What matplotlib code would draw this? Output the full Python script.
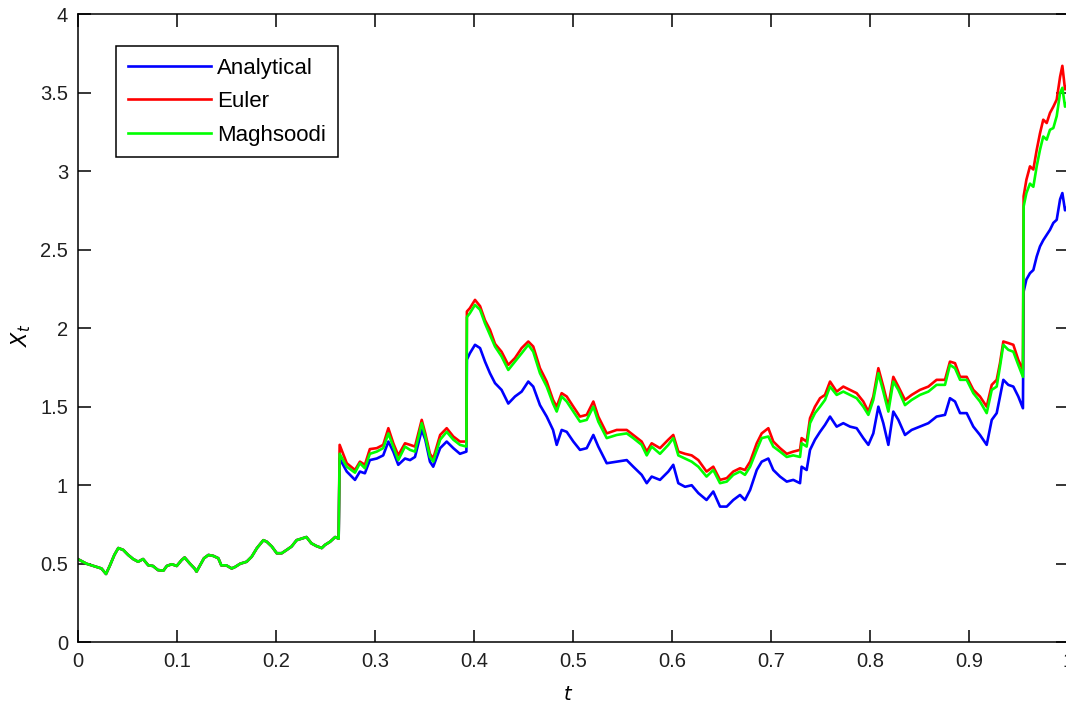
import numpy as np
import matplotlib
matplotlib.use("Agg")
import matplotlib.pyplot as plt

plt.rcParams['font.family'] = ['Liberation Sans', 'DejaVu Sans']

# --- data ---
# before the first jump the three paths coincide
t_early = [0.0, 0.009, 0.019, 0.024, 0.0286, 0.0326, 0.037, 0.041, 0.046, 0.051,
           0.056, 0.061, 0.066, 0.0713, 0.076, 0.081, 0.0865, 0.09, 0.095, 0.1,
           0.105, 0.108, 0.113, 0.118, 0.12, 0.1235, 0.1275, 0.132, 0.137, 0.142,
           0.145, 0.15, 0.1555, 0.159, 0.164, 0.1706, 0.1757, 0.181, 0.1875, 0.191,
           0.196, 0.201, 0.206, 0.211, 0.216, 0.221, 0.226, 0.231, 0.236, 0.241,
           0.2464, 0.2497, 0.2548, 0.26, 0.2635]
x_early = [0.53, 0.50, 0.48, 0.47, 0.435, 0.49, 0.556, 0.60, 0.588, 0.556,
           0.53, 0.513, 0.53, 0.49, 0.486, 0.46, 0.456, 0.486, 0.497, 0.486,
           0.524, 0.54, 0.503, 0.47, 0.45, 0.49, 0.535, 0.556, 0.55, 0.535,
           0.49, 0.49, 0.47, 0.48, 0.50, 0.513, 0.545, 0.60, 0.65, 0.64,
           0.61, 0.567, 0.567, 0.588, 0.61, 0.65, 0.66, 0.67, 0.63, 0.613,
           0.60, 0.62, 0.64, 0.67, 0.66]

t_late = [0.2645, 0.2717, 0.28, 0.285, 0.29, 0.295, 0.302, 0.3085, 0.3137, 0.3187,
          0.3237, 0.3305, 0.3356, 0.3406, 0.3474, 0.351, 0.3557, 0.359, 0.366, 0.3726,
          0.3793, 0.386, 0.3925, 0.393, 0.396, 0.4012, 0.4063, 0.4113, 0.4163, 0.4214,
          0.428, 0.4348, 0.4416, 0.4483, 0.455, 0.46, 0.4668, 0.4736, 0.48, 0.4837,
          0.4887, 0.4938, 0.5005, 0.5072, 0.514, 0.5207, 0.5257, 0.5342, 0.5443, 0.5544,
          0.561, 0.5695, 0.5746, 0.5796, 0.588, 0.5964, 0.6014, 0.6065, 0.6133, 0.62,
          0.6267, 0.635, 0.6418, 0.6486, 0.6554, 0.662, 0.6688, 0.6738, 0.679, 0.6857,
          0.6907, 0.6974, 0.7024, 0.7092, 0.716, 0.7226, 0.7294, 0.731, 0.7361, 0.7395,
          0.7445, 0.7496, 0.7546, 0.7597, 0.7664, 0.7731, 0.7799, 0.7866, 0.7933, 0.7984,
          0.8034, 0.8085, 0.8135, 0.8186, 0.8236, 0.8287, 0.8354, 0.8421, 0.8505, 0.859,
          0.8673, 0.8758, 0.8808, 0.8859, 0.891, 0.8977, 0.9044, 0.9111, 0.9179, 0.923,
          0.928, 0.9313, 0.9347, 0.9397, 0.9448, 0.9498, 0.9545, 0.9552, 0.958, 0.9616,
          0.965, 0.9684, 0.9717, 0.975, 0.9785, 0.9818, 0.9852, 0.9886, 0.992, 0.9943,
          0.997, 1.0]

maghsoodi_late = [1.20, 1.118, 1.08, 1.14, 1.108, 1.20, 1.214, 1.236, 1.33, 1.246,
                  1.16, 1.246, 1.225, 1.214, 1.395, 1.31, 1.18, 1.15, 1.29, 1.34,
                  1.29, 1.257, 1.246, 2.07, 2.095, 2.148, 2.117, 2.03, 1.957, 1.883,
                  1.82, 1.734, 1.787, 1.84, 1.894, 1.85, 1.713, 1.628, 1.52, 1.469,
                  1.565, 1.533, 1.469, 1.405, 1.416, 1.50, 1.405, 1.30, 1.32, 1.33,
                  1.30, 1.257, 1.19, 1.246, 1.20, 1.257, 1.30, 1.19, 1.17, 1.15,
                  1.118, 1.055, 1.097, 1.013, 1.023, 1.066, 1.087, 1.066, 1.118, 1.225,
                  1.30, 1.31, 1.246, 1.214, 1.18, 1.19, 1.18, 1.267, 1.246, 1.395,
                  1.459, 1.50, 1.543, 1.628, 1.575, 1.596, 1.575, 1.554, 1.50, 1.448,
                  1.543, 1.713, 1.596, 1.469, 1.66, 1.607, 1.51, 1.543, 1.575, 1.596,
                  1.639, 1.639, 1.766, 1.745, 1.671, 1.671, 1.586, 1.533, 1.459, 1.607,
                  1.628, 1.755, 1.894, 1.862, 1.85, 1.766, 1.69, 2.775, 2.86, 2.92,
                  2.90, 3.03, 3.135, 3.22, 3.20, 3.263, 3.274, 3.35, 3.497, 3.53,
                  3.41, 3.45]

analytical_late = [1.17, 1.087, 1.034, 1.087, 1.076, 1.16, 1.17, 1.19, 1.278, 1.214,
                   1.13, 1.17, 1.16, 1.18, 1.352, 1.29, 1.15, 1.118, 1.236, 1.278,
                   1.236, 1.20, 1.214, 1.80, 1.84, 1.894, 1.873, 1.787, 1.713, 1.65,
                   1.607, 1.52, 1.565, 1.596, 1.66, 1.628, 1.51, 1.437, 1.352, 1.257,
                   1.352, 1.34, 1.278, 1.225, 1.236, 1.32, 1.246, 1.14, 1.15, 1.16,
                   1.118, 1.066, 1.013, 1.055, 1.034, 1.087, 1.13, 1.013, 0.99, 1.00,
                   0.95, 0.906, 0.96, 0.864, 0.864, 0.906, 0.938, 0.906, 0.97, 1.097,
                   1.15, 1.17, 1.097, 1.055, 1.023, 1.034, 1.013, 1.118, 1.097, 1.225,
                   1.29, 1.34, 1.384, 1.437, 1.373, 1.395, 1.373, 1.363, 1.30, 1.257,
                   1.33, 1.50, 1.395, 1.257, 1.469, 1.416, 1.32, 1.352, 1.373, 1.395,
                   1.437, 1.448, 1.554, 1.533, 1.459, 1.459, 1.373, 1.32, 1.257, 1.416,
                   1.459, 1.565, 1.671, 1.639, 1.628, 1.565, 1.49, 2.233, 2.31, 2.35,
                   2.37, 2.456, 2.52, 2.56, 2.594, 2.626, 2.67, 2.69, 2.82, 2.86,
                   2.75, 2.78]

euler_late = [1.257, 1.14, 1.097, 1.15, 1.13, 1.23, 1.236, 1.257, 1.363, 1.267,
              1.19, 1.267, 1.257, 1.246, 1.416, 1.33, 1.20, 1.17, 1.32, 1.363,
              1.31, 1.278, 1.278, 2.106, 2.127, 2.18, 2.14, 2.05, 1.99, 1.90,
              1.85, 1.766, 1.81, 1.873, 1.915, 1.883, 1.745, 1.66, 1.543, 1.50,
              1.586, 1.565, 1.50, 1.437, 1.448, 1.533, 1.437, 1.33, 1.352, 1.352,
              1.32, 1.278, 1.214, 1.267, 1.236, 1.29, 1.32, 1.214, 1.20, 1.19,
              1.16, 1.087, 1.118, 1.034, 1.045, 1.087, 1.108, 1.097, 1.15, 1.267,
              1.33, 1.363, 1.278, 1.236, 1.20, 1.214, 1.225, 1.30, 1.278, 1.427,
              1.50, 1.554, 1.575, 1.66, 1.596, 1.628, 1.607, 1.586, 1.533, 1.469,
              1.565, 1.745, 1.628, 1.50, 1.69, 1.628, 1.543, 1.575, 1.607, 1.628,
              1.671, 1.671, 1.787, 1.777, 1.69, 1.69, 1.607, 1.565, 1.50, 1.639,
              1.671, 1.777, 1.915, 1.905, 1.894, 1.798, 1.734, 2.84, 2.945, 3.03,
              3.01, 3.135, 3.24, 3.327, 3.306, 3.37, 3.41, 3.455, 3.60, 3.67,
              3.52, 3.55]

labels = ['Analytical', 'Euler', 'Maghsoodi']
colors = ['#0000ff', '#ff0000', '#00ff00']

t = np.array(t_early + t_late)
series = [x_early + analytical_late, x_early + euler_late, x_early + maghsoodi_late]

fig = plt.figure(figsize=(10.66, 7.03), dpi=100)
# axes runs a couple of pixels past the right edge, as in the cropped original
ax = fig.add_axes([77.7/1066, (703-642.3)/703, 990.3/1066, 628.3/703])
for y, lab, c in zip(series, labels, colors):
    ax.plot(t, y, color=c, lw=1.9, label=lab)

ax.set_xlim(0, 1); ax.set_ylim(0, 4)
ax.set_xticks(np.arange(0, 1.01, 0.1))
ax.set_xticklabels(['0', '0.1', '0.2', '0.3', '0.4', '0.5', '0.6', '0.7', '0.8', '0.9', '1'])
ax.set_yticks(np.arange(0, 4.01, 0.5))
ax.set_yticklabels(['0', '0.5', '1', '1.5', '2', '2.5', '3', '3.5', '4'])
ax.tick_params(direction='in', length=9, width=1.1, top=True, right=True,
               labelsize=14.5, labelcolor='#202020', pad=7)
for sp in ax.spines.values():
    sp.set_linewidth(1.1)

ax.set_xlabel('$t$', fontsize=14, va='top')
ax.xaxis.set_label_coords(0.495, -0.070)
ax.set_ylabel('$X_t$', fontsize=15)
ax.yaxis.set_label_coords(-0.045, 0.489)

leg = ax.legend(loc='upper left', bbox_to_anchor=(0.0387, 0.949), borderaxespad=0,
                fancybox=False, edgecolor='black', fontsize=16, handlelength=3.75,
                handletextpad=0.28, borderpad=0.52, labelspacing=0.57, framealpha=1)
leg.get_frame().set_linewidth(1.1)

fig.savefig('out.png', dpi=100)
